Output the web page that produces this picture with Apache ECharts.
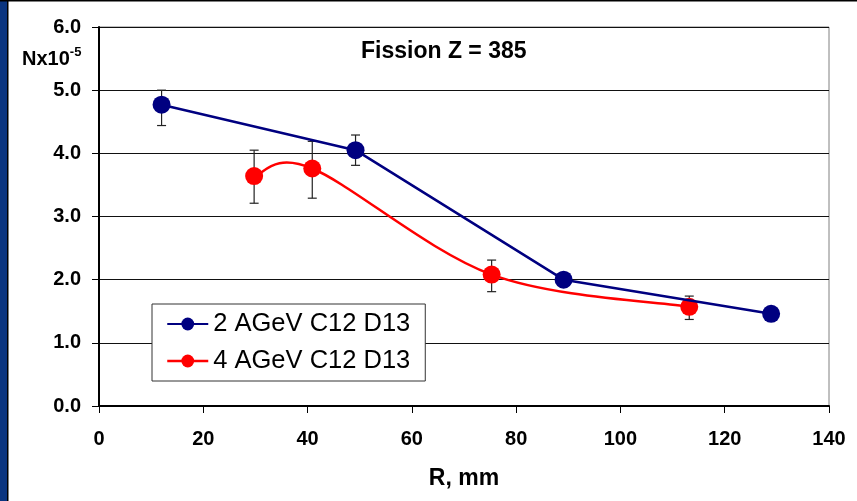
<!DOCTYPE html>
<html>
<head>
<meta charset="utf-8">
<script src="https://cdn.jsdelivr.net/npm/echarts@6/dist/echarts.min.js"></script>
<style>
html,body{margin:0;padding:0;background:#fff;}
#c{width:857px;height:501px;}
</style>
</head>
<body>
<div id="c"></div>
<script>
const seriesNames = ['2 AGeV C12 D13', '4 AGeV C12 D13'];
const blueX = [12, 49.2, 89.1, 128.9];
const blueY = [4.77, 4.05, 2.0, 1.46];
const blueErrLow = [4.44, 3.81, null, null];
const blueErrHigh = [5.00, 4.29, null, null];
const redX = [29.75, 40.9, 75.3, 113.2];
const redY = [3.64, 3.76, 2.08, 1.57];
const redErrLow = [3.21, 3.29, 1.81, 1.37];
const redErrHigh = [4.05, 4.19, 2.31, 1.74];
const xTicks = [0, 20, 40, 60, 80, 100, 120, 140];
const yTicks = [0, 1, 2, 3, 4, 5, 6];

const FONT = '"Liberation Sans", Arial, sans-serif';
const chart = echarts.init(document.getElementById('c'));

function pairs(xs, ys) { return xs.map((x, i) => [x, ys[i]]); }
function errData(xs, lo, hi) {
  const out = [];
  xs.forEach((x, i) => { if (lo[i] != null) out.push([x, lo[i], hi[i]]); });
  return out;
}
function errRender(params, api) {
  const x = api.value(0);
  const p1 = api.coord([x, api.value(1)]);
  const p2 = api.coord([x, api.value(2)]);
  const hw = 4.5;
  const st = { stroke: '#222', lineWidth: 1.2 };
  return {
    type: 'group',
    children: [
      { type: 'line', shape: { x1: p1[0], y1: p1[1], x2: p2[0], y2: p2[1] }, style: st },
      { type: 'line', shape: { x1: p1[0] - hw, y1: p1[1], x2: p1[0] + hw, y2: p1[1] }, style: st },
      { type: 'line', shape: { x1: p2[0] - hw, y1: p2[1], x2: p2[0] + hw, y2: p2[1] }, style: st }
    ]
  };
}
// Excel-like smoothed curve (cardinal Bezier) through the red data points
function smoothRender(params, api) {
  if (params.dataIndex !== 0) return { type: 'group', children: [] };
  const pts = redX.map((x, i) => api.coord([x, redY[i]]));
  let d = 'M' + pts[0][0] + ',' + pts[0][1];
  for (let i = 0; i < pts.length - 1; i++) {
    const p0 = pts[Math.max(i - 1, 0)], p1 = pts[i], p2 = pts[i + 1], p3 = pts[Math.min(i + 2, pts.length - 1)];
    const c1 = [p1[0] + (p2[0] - p0[0]) / 6, p1[1] + (p2[1] - p0[1]) / 6];
    const c2 = [p2[0] - (p3[0] - p1[0]) / 6, p2[1] - (p3[1] - p1[1]) / 6];
    d += 'C' + c1[0] + ',' + c1[1] + ',' + c2[0] + ',' + c2[1] + ',' + p2[0] + ',' + p2[1];
  }
  return { type: 'path', shape: { pathData: d }, style: { fill: null, stroke: '#ff0000', lineWidth: 2.5 } };
}

chart.setOption({
  animation: false,
  backgroundColor: '#fff',
  textStyle: { fontFamily: FONT },
  title: {
    text: 'Fission Z = 385',
    left: 356, top: 35,
    textStyle: { fontSize: 23, fontWeight: 'bold', color: '#000', fontFamily: FONT }
  },
  grid: { left: 99, right: 28, top: 27, bottom: 95, show: true, borderColor: '#808080', borderWidth: 1 },
  legend: {
    data: [
      { name: seriesNames[0] },
      { name: seriesNames[1], lineStyle: { color: '#ff0000', width: 2.5, opacity: 1 } }
    ],
    orient: 'vertical',
    left: 152, top: 304,
    padding: [7, 15, 7, 14],
    itemGap: 11,
    itemWidth: 41, itemHeight: 16,
    itemTextGap: 7,
    backgroundColor: '#fff',
    borderColor: '#333', borderWidth: 1,
    textStyle: { fontSize: 25.5, color: '#000', fontFamily: FONT }
  },
  xAxis: {
    type: 'value', min: 0, max: 140, interval: 20,
    name: 'R, mm', nameLocation: 'middle', nameGap: 61,
    nameTextStyle: { fontSize: 23, fontWeight: 'bold', color: '#000', fontFamily: FONT },
    axisLine: { show: true, onZero: false, lineStyle: { color: '#000', width: 2 } },
    axisTick: { show: true, inside: false, length: 7, lineStyle: { color: '#000', width: 1 } },
    axisLabel: { margin: 23, fontSize: 20, fontWeight: 'bold', color: '#000', fontFamily: FONT,
      formatter: v => xTicks.includes(v) ? String(v) : '' },
    splitLine: { show: false }
  },
  yAxis: {
    type: 'value', min: 0, max: 6, interval: 1,
    axisLine: { show: true, onZero: false, lineStyle: { color: '#000', width: 2 } },
    axisTick: { show: true, inside: false, length: 7, lineStyle: { color: '#000', width: 1 } },
    axisLabel: { margin: 18, fontSize: 20, fontWeight: 'bold', color: '#000', fontFamily: FONT,
      formatter: v => yTicks.includes(v) ? v.toFixed(1) : '' },
    splitLine: { show: true, lineStyle: { color: '#111', width: 1 } }
  },
  graphic: [
    { type: 'rect', shape: { x: 0, y: 0, width: 7, height: 501 }, style: { fill: '#0b3580' }, z: 100 },
    { type: 'rect', shape: { x: 7, y: 0, width: 1.5, height: 501 }, style: { fill: '#000' }, z: 100 },
    { type: 'rect', shape: { x: 0, y: 0, width: 857, height: 1.5 }, style: { fill: '#000' }, z: 100 },
    {
      type: 'text', left: 22, top: 46, z: 100,
      style: {
        text: '{a|Nx10}{b|-5}',
        rich: {
          a: { fontSize: 20, fontWeight: 'bold', fill: '#000', fontFamily: FONT, verticalAlign: 'bottom' },
          b: { fontSize: 13, fontWeight: 'bold', fill: '#000', fontFamily: FONT, verticalAlign: 'top', padding: [0, 0, 10, 0] }
        }
      }
    }
  ],
  series: [
    {
      type: 'custom', name: 'errBlue', renderItem: errRender, z: 1,
      data: errData(blueX, blueErrLow, blueErrHigh), encode: { x: 0, y: [1, 2] }, silent: true
    },
    {
      type: 'custom', name: 'errRed', renderItem: errRender, z: 1,
      data: errData(redX, redErrLow, redErrHigh), encode: { x: 0, y: [1, 2] }, silent: true
    },
    {
      type: 'custom', name: 'redCurve', renderItem: smoothRender, z: 2,
      data: pairs(redX, redY), encode: { x: 0, y: 1 }, silent: true
    },
    {
      name: seriesNames[0], type: 'line', data: pairs(blueX, blueY), z: 4,
      symbol: 'circle', symbolSize: 18,
      itemStyle: { color: '#000080' },
      lineStyle: { color: '#000080', width: 2.5 }
    },
    {
      name: seriesNames[1], type: 'line', data: pairs(redX, redY), z: 3,
      symbol: 'circle', symbolSize: 18,
      itemStyle: { color: '#ff0000' },
      lineStyle: { color: '#ff0000', width: 2.5, opacity: 0 }
    }
  ]
});
</script>
</body>
</html>
